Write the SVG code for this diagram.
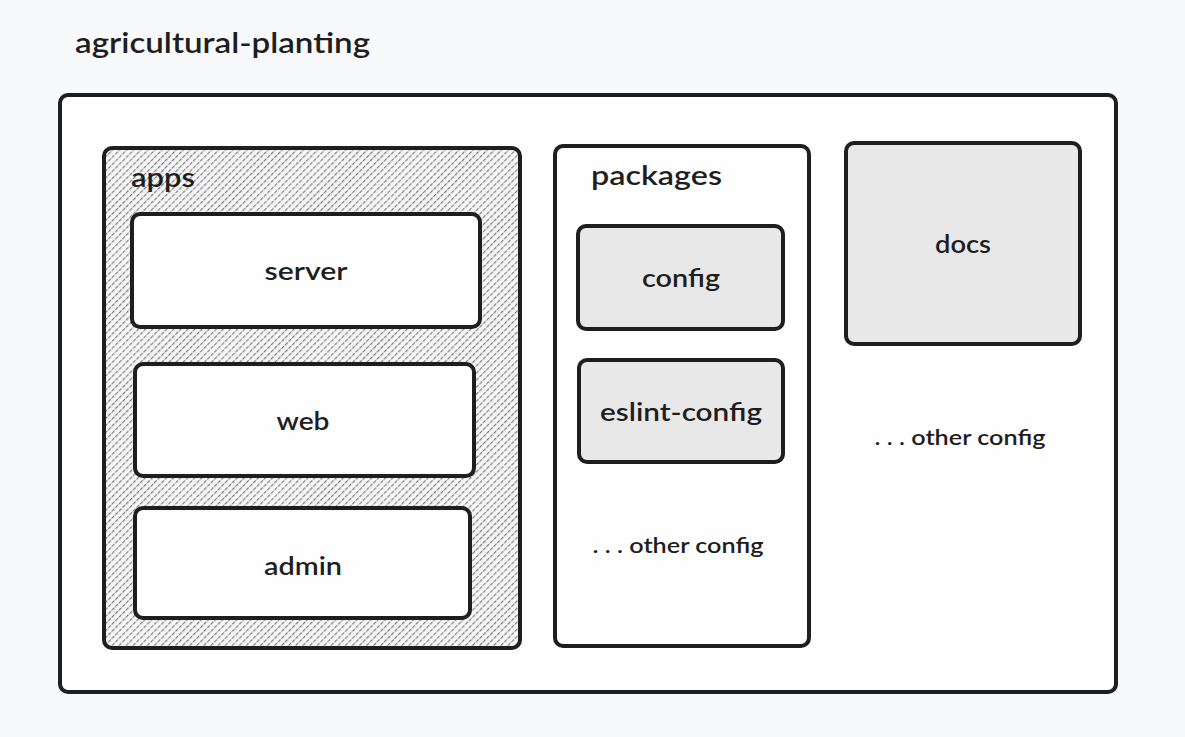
<svg xmlns="http://www.w3.org/2000/svg" width="1185" height="737" viewBox="0 0 1185 737">
<defs>
<pattern id="hatch" width="5" height="5" patternUnits="userSpaceOnUse" patternTransform="rotate(45)">
<rect width="5" height="5" fill="#f6f6f6"/>
<line x1="0" y1="0" x2="0" y2="5" stroke="#7e7e7e" stroke-width="2.4" stroke-dasharray="2.6 1.1"/>
</pattern>
</defs>
<style>
.box{stroke:#1e1e1e;stroke-width:4;stroke-linejoin:round}
.white{fill:#fefefe}
.gray{fill:#e8e8e8}
.t{font-family:Lato,"Noto Sans",sans-serif;fill:#1e1e1e;font-weight:600}
.c{text-anchor:middle;dominant-baseline:central}
</style>
<rect width="1185" height="737" fill="#f8f9fb"/>
<text class="t" x="75" y="53" font-size="28" textLength="295" lengthAdjust="spacingAndGlyphs">agricultural-planting</text>
<g id="root"><rect class="box white" x="60" y="95" width="1056" height="597" rx="8"/></g>
<g id="apps">
<rect class="box" fill="url(#hatch)" x="104" y="148" width="416" height="500" rx="8"/>
<text class="t" x="131" y="187" font-size="26" textLength="64" lengthAdjust="spacingAndGlyphs">apps</text>
</g>
<g id="server"><rect class="box white" x="132" y="214" width="348" height="113" rx="8"/><text class="t c" x="306" y="270" font-size="25" textLength="83" lengthAdjust="spacingAndGlyphs">server</text></g>
<g id="web"><rect class="box white" x="135" y="364" width="339" height="112" rx="8"/><text class="t c" x="303" y="420" font-size="25" textLength="53" lengthAdjust="spacingAndGlyphs">web</text></g>
<g id="admin"><rect class="box white" x="135" y="508" width="335" height="110" rx="8"/><text class="t c" x="303" y="565" font-size="25" textLength="78" lengthAdjust="spacingAndGlyphs">admin</text></g>
<g id="packages">
<rect class="box white" x="555" y="146" width="254" height="500" rx="8"/>
<text class="t" x="591" y="185" font-size="27" textLength="131" lengthAdjust="spacingAndGlyphs">packages</text>
</g>
<g id="config"><rect class="box gray" x="578" y="226" width="205" height="103" rx="8"/><text class="t c" x="681" y="277" font-size="25" textLength="78" lengthAdjust="spacingAndGlyphs">config</text></g>
<g id="eslint-config"><rect class="box gray" x="579" y="360" width="204" height="102" rx="8"/><text class="t c" x="681" y="411" font-size="25" textLength="162" lengthAdjust="spacingAndGlyphs">eslint-config</text></g>
<g id="other1"><text class="t c" x="678" y="544" font-size="21" textLength="171" lengthAdjust="spacingAndGlyphs">. . . other config</text></g>
<g id="docs"><rect class="box gray" x="846" y="143" width="234" height="201" rx="8"/><text class="t c" x="963" y="243" font-size="25" textLength="56" lengthAdjust="spacingAndGlyphs">docs</text></g>
<g id="other2"><text class="t c" x="960" y="436" font-size="21" textLength="171" lengthAdjust="spacingAndGlyphs">. . . other config</text></g>
<g id="connectors"></g>
</svg>
